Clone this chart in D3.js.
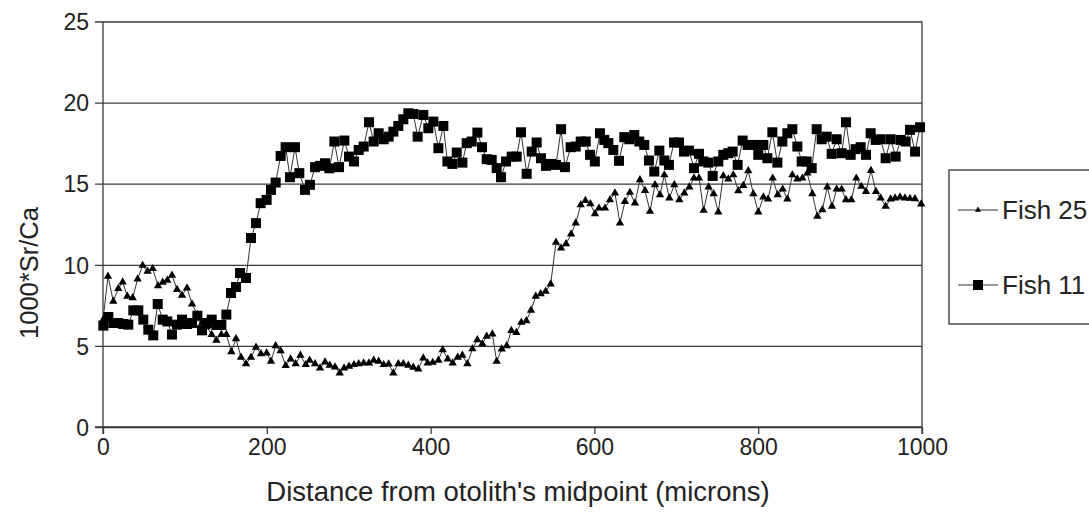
<!DOCTYPE html>
<html>
<head>
<meta charset="utf-8">
<script src="https://cdn.jsdelivr.net/npm/d3@7"></script>
<style>
  html, body { margin: 0; padding: 0; background: #fff; }
  svg { display: block; font-family: "Liberation Sans", Arial, sans-serif; }
</style>
</head>
<body>
<svg id="chart" width="1089" height="524"></svg>
<script>
// Sr/Ca profiles across two otoliths (distance in microns, ratio x1000)
const fish25Distance = [0,6.1,12.6,18.7,24,29.7,36.2,42.3,48.4,54.5,60.6,67.2,72.9,78.5,84.2,90.4,96.5,102.6,108.7,115.2,120.9,126.6,132.7,138.4,144.5,150.6,156.7,162.4,168.5,174.6,180.7,186.8,192.9,199.8,205.1,210.8,216.9,223,229.1,235.2,241,247.5,252.3,258.9,265,271.1,276.8,283.3,289,294.3,300.4,306.5,312.2,318.3,324.8,330.5,336.6,342.7,348.8,354.5,360.6,366.7,372.8,378.9,385,391.1,396.4,402.6,409.5,414.8,420.9,427,433.1,438.8,444.9,451,457.1,463.2,468.5,475.4,480.7,486.8,492.9,498.6,504.7,510.8,516.9,522.6,528.3,534.4,540.5,546.6,553.1,559.3,565.4,571.5,577.2,583.3,589,595.1,600.7,605.6,612.9,619,625.1,631.2,637.3,643.4,649.5,655.6,661.8,667.9,674,680.1,685.4,691.5,697.6,703.7,709.8,715.9,721.6,727.7,733.4,739.5,745.6,751.3,757.4,763.5,769.6,775.7,781.8,787.9,794,800.1,806.3,812,817.7,823.8,829.9,835.6,841.7,847.8,853.9,860,866.1,872.2,878.3,884.4,890.1,895.8,901.9,907.2,913.7,919.8,925.9,931.6,937.7,943.8,949.5,955.6,961.7,967.1,973.1,979.2,985.3,991.4,999];
const fish25Ratio = [6.6,9.29,7.75,8.53,8.94,8.06,7.96,9.12,9.96,9.6,9.76,8.71,8.92,9.04,9.35,8.47,8.12,8.57,7.58,6.93,6.41,6.17,5.7,5.35,5.7,5.7,4.63,5.43,4.3,3.89,4.3,4.91,4.51,4.56,4.05,5.01,4.7,3.78,4.19,3.9,4.42,3.84,4.11,3.9,3.63,4.0,3.8,3.7,3.33,3.63,3.74,3.84,3.9,3.94,3.94,4.11,4.05,3.84,3.88,3.33,3.9,3.9,3.8,3.68,3.57,4.25,3.94,3.98,4.11,4.76,4.19,3.94,4.29,4.42,3.9,4.82,5.38,5.13,5.59,5.73,4.05,4.8,5.01,5.95,5.82,6.45,6.55,7.19,8.05,8.21,8.36,8.81,11.38,11.03,11.29,11.89,12.57,13.7,13.96,13.76,13.14,13.49,13.49,14.0,14.42,12.57,13.9,14.46,13.8,15.24,14.58,13.29,14.93,14.31,15.54,14.11,14.93,14.0,14.42,14.79,15.35,15.35,13.35,14.79,14.38,13.25,15.48,15.28,15.54,14.56,14.89,15.79,14.38,13.25,14.17,14.05,15.34,14.31,14.66,14.05,15.54,15.28,15.34,15.65,14.38,12.99,13.39,14.79,13.6,14.66,14.66,14.0,14.0,15.34,14.83,14.52,15.81,14.52,14.11,13.6,14.05,14.11,14.17,14.11,14.09,14.07,13.75];

const fish11Distance = [0.4,6.5,12.6,18.7,24.8,30.9,37,43.1,49.2,55.3,61.4,66.8,72.9,78.5,84.2,90.4,96.5,102.6,108.7,115.2,120.9,126.6,132.7,138.4,144.5,150.6,156.3,162.4,167.3,174.6,180.7,186.8,192.5,199.8,205.1,210.8,216.9,223,228.3,234.4,239.7,246.6,252.7,258.9,265,271.1,276.4,282.5,288.2,294.7,300.4,306.5,312.2,318.3,324.8,330.5,336.6,342.7,348.8,354.5,360.6,366.7,372.8,378.9,384.2,391.1,397.2,403.4,409.5,415.6,420.5,426.6,431.9,438.8,444.1,450.2,457.1,462.8,468.5,474.6,480.7,486,492.1,499,505.1,510.4,517.3,523.4,529.5,534.8,540.9,547.1,553.1,559.3,564.1,571,577.2,583.3,589.4,594.7,600.5,606.8,612.1,617,623.1,630,636.5,642.6,648.7,654.8,660.9,666.6,673.1,679.3,685.4,691,697.2,703.3,709.4,715.5,721.6,727.7,733,739.1,744.4,751.3,757.4,763.5,768.8,774.9,781,787.1,795.2,800.1,806.3,811.2,817.3,823.4,829.5,835.6,841.7,847.8,853.1,859.2,865.3,871.4,877.5,883.6,889.7,895.8,901.9,907.2,912.9,919,925.1,931.6,937.3,943.4,949.5,955.6,961.7,967.8,973.9,980,985.4,991.5,997.6];
const fish11Ratio = [6.25,6.78,6.41,6.41,6.35,6.31,7.19,7.19,6.62,6.0,5.65,7.58,6.62,6.51,5.7,6.31,6.62,6.35,6.41,6.86,5.96,6.41,6.62,6.29,6.29,6.93,8.26,8.63,9.49,9.19,11.65,12.57,13.8,14.0,14.62,15.07,16.71,17.25,15.4,17.25,15.65,14.62,14.93,16.02,16.1,16.26,15.95,17.6,16.02,17.66,16.67,16.37,17.08,17.29,18.79,17.6,18.11,17.74,17.9,18.21,18.56,18.97,19.34,19.3,17.9,19.24,18.42,18.83,17.19,18.56,16.37,16.22,16.92,16.3,17.5,17.6,18.15,17.25,16.51,16.47,15.96,15.4,16.37,16.67,16.67,18.17,15.61,16.98,17.54,16.57,16.1,16.22,16.16,18.36,16.02,17.25,17.29,17.6,17.6,16.78,16.37,18.11,17.7,17.5,17.08,16.41,17.87,17.74,18.0,17.6,17.39,16.43,15.75,17.04,16.43,16.16,17.54,17.54,16.98,17.04,15.96,16.84,16.37,16.3,15.48,16.37,16.78,16.88,16.98,16.16,17.66,17.39,17.39,16.78,17.39,16.57,18.17,16.3,17.6,18.11,18.36,17.29,16.37,16.37,15.96,18.36,17.74,17.9,16.84,17.74,16.88,18.79,16.78,17.13,17.25,16.78,18.11,17.7,17.74,16.57,17.74,16.67,17.7,17.6,18.32,16.98,18.48];

const xTicks = [0, 200, 400, 600, 800, 1000];
const yTicks = [0, 5, 10, 15, 20, 25];
const seriesNames = ["Fish 25", "Fish 11"];
const xTitle = "Distance from otolith's midpoint (microns)";
const yTitle = "1000*Sr/Ca";

const svg = d3.select("#chart");
const plot = { left: 103, right: 922, top: 21.5, bottom: 427 };

const x = d3.scaleLinear().domain([0, 1000]).range([plot.left, plot.right]);
const y = d3.scaleLinear().domain([0, 25]).range([plot.bottom, plot.top]);

const gridColor = "#3a3a3a";
const textColor = "#222";

// horizontal gridlines, extended left past the axis as tick marks
const yAxis = d3.axisLeft(y).tickValues(yTicks).tickSize(0).tickPadding(0).tickFormat(d3.format("d"));
const gy = svg.append("g").attr("transform", `translate(${plot.left},0)`).call(yAxis);
gy.select(".domain").remove();
gy.selectAll(".tick line")
  .attr("x1", -8).attr("x2", plot.right - plot.left)
  .attr("stroke", gridColor).attr("stroke-width", 1.3);
gy.selectAll(".tick text")
  .attr("x", -14).attr("dy", "0.36em")
  .attr("font-size", 23).attr("fill", textColor)
  .style("font-family", "Liberation Sans, Arial, sans-serif");

// x axis
const xAxis = d3.axisBottom(x).tickValues(xTicks).tickSize(7).tickPadding(5).tickFormat(d3.format("d"));
const gx = svg.append("g").attr("transform", `translate(0,${plot.bottom})`).call(xAxis);
gx.select(".domain").attr("stroke", gridColor).attr("stroke-width", 1.3).attr("d", `M${plot.left - 8},0H${plot.right}`);
gx.selectAll(".tick line").attr("stroke", gridColor).attr("stroke-width", 1.3);
gx.selectAll(".tick text")
  .attr("font-size", 23).attr("fill", textColor)
  .style("font-family", "Liberation Sans, Arial, sans-serif");

// plot frame: left axis and right border
svg.append("line").attr("x1", plot.left).attr("x2", plot.left)
  .attr("y1", plot.top).attr("y2", plot.bottom + 7)
  .attr("stroke", gridColor).attr("stroke-width", 1.3);
svg.append("line").attr("x1", plot.right).attr("x2", plot.right)
  .attr("y1", plot.top).attr("y2", plot.bottom + 7)
  .attr("stroke", gridColor).attr("stroke-width", 1.3);

// axis titles
svg.append("text")
  .attr("x", 518).attr("y", 501)
  .attr("text-anchor", "middle").attr("font-size", 27.5).attr("fill", textColor)
  .text(xTitle);
svg.append("text")
  .attr("transform", `translate(38,273) rotate(-90)`)
  .attr("text-anchor", "middle").attr("font-size", 25.5).attr("fill", textColor)
  .text(yTitle);

// series
const lineColor = "#333";
const triangle = d3.symbol().type(d3.symbolTriangle).size(30);

function drawSeries(xs, ys, marker) {
  const pts = xs.map((d, i) => [x(d), y(ys[i])]);
  svg.append("path")
    .attr("d", d3.line()(pts))
    .attr("fill", "none").attr("stroke", lineColor).attr("stroke-width", 1);
  const g = svg.append("g");
  if (marker === "square") {
    g.selectAll("rect").data(pts).join("rect")
      .attr("x", d => d[0] - 5).attr("y", d => d[1] - 5)
      .attr("width", 10).attr("height", 10).attr("fill", "#000");
  } else {
    g.selectAll("path").data(pts).join("path")
      .attr("d", triangle)
      .attr("transform", d => `translate(${d[0]},${d[1]})`)
      .attr("fill", "#000");
  }
}

drawSeries(fish25Distance, fish25Ratio, "triangle");
drawSeries(fish11Distance, fish11Ratio, "square");

// legend
const legend = svg.append("g");
legend.append("rect")
  .attr("x", 949).attr("y", 170).attr("width", 160).attr("height", 154)
  .attr("fill", "#fff").attr("stroke", "#333").attr("stroke-width", 1.3);
const entries = [
  { name: seriesNames[0], cy: 210, marker: "triangle" },
  { name: seriesNames[1], cy: 285, marker: "square" }
];
entries.forEach(e => {
  legend.append("line").attr("x1", 958).attr("x2", 998)
    .attr("y1", e.cy).attr("y2", e.cy).attr("stroke", lineColor).attr("stroke-width", 1);
  if (e.marker === "square") {
    legend.append("rect").attr("x", 973).attr("y", e.cy - 5).attr("width", 10).attr("height", 10).attr("fill", "#000");
  } else {
    legend.append("path").attr("d", d3.symbol().type(d3.symbolTriangle).size(16)())
      .attr("transform", `translate(978,${e.cy})`).attr("fill", "#000");
  }
  legend.append("text").attr("x", 1002).attr("y", e.cy + 9)
    .attr("font-size", 26).attr("fill", textColor).text(e.name);
});
</script>
</body>
</html>
